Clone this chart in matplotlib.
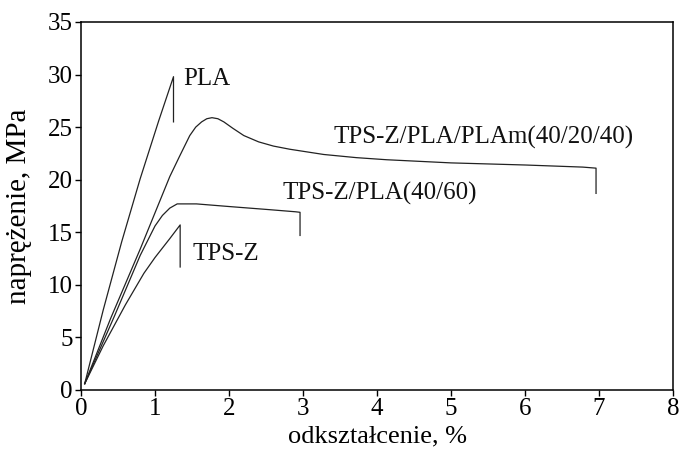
import matplotlib
matplotlib.use("Agg")
import matplotlib.pyplot as plt

# strain (%) / stress (MPa)
pla_x = [0.05, 0.30, 0.55, 0.80, 1.05, 1.25, 1.25]
pla_y = [0.6, 7.6, 14.1, 20.1, 25.6, 29.8, 25.5]

blend3_x = [0.05, 0.4, 0.8, 1.2, 1.33, 1.47, 1.55, 1.63, 1.70, 1.77, 1.85, 1.93,
            2.05, 2.2, 2.4, 2.6, 2.82, 3.05, 3.28, 3.72, 4.13, 5.0, 6.0, 6.78,
            6.96, 6.96]
blend3_y = [0.6, 6.8, 13.4, 20.3, 22.2, 24.2, 25.0, 25.5, 25.8, 25.9, 25.8, 25.5,
            24.9, 24.2, 23.6, 23.2, 22.9, 22.65, 22.4, 22.1, 21.9, 21.6, 21.4, 21.2,
            21.1, 18.7]

blend2_x = [0.05, 0.45, 0.8, 1.0, 1.1, 1.2, 1.3, 1.56, 2.0, 2.55, 2.9, 2.96, 2.96]
blend2_y = [0.6, 7.0, 12.8, 15.6, 16.6, 17.3, 17.7, 17.7, 17.45, 17.15, 16.95, 16.9, 14.7]

tpsz_x = [0.05, 0.3, 0.6, 0.85, 1.0, 1.2, 1.34, 1.34]
tpsz_y = [0.6, 4.2, 8.1, 11.1, 12.6, 14.4, 15.7, 11.7]

labels = ["PLA", "TPS-Z/PLA/PLAm(40/20/40)", "TPS-Z/PLA(40/60)", "TPS-Z"]
label_pos = [(1.38, 29.6), (3.41, 24.0), (2.72, 18.7), (1.51, 12.9)]

plt.rcParams["font.family"] = ["Liberation Serif", "DejaVu Serif"]
plt.rcParams["font.size"] = 18

fig = plt.figure(figsize=(6.79, 4.5), dpi=100)
ax = fig.add_axes([81 / 679, 1 - 390 / 450, 592 / 679, 368 / 450])

for xs, ys in [(pla_x, pla_y), (blend3_x, blend3_y), (blend2_x, blend2_y), (tpsz_x, tpsz_y)]:
    ax.plot(xs, ys, color="#222222", lw=0.9)

for text, (tx, ty) in zip(labels, label_pos):
    ax.text(tx, ty, text, ha="left", va="center", color="#111111", fontsize=18)

ax.set_xlim(0, 8)
ax.set_ylim(0, 35)
ax.set_xticks(range(0, 9))
ax.set_yticks(range(0, 36, 5))
ax.tick_params(direction="out", length=4, width=1, top=False, right=False,
               pad=2, labelsize=18)
for s in ax.spines.values():
    s.set_linewidth(1.1)

ax.set_xlabel("odkształcenie, %", fontsize=19)
ax.set_ylabel("naprężenie, MPa", fontsize=21)
ax.xaxis.set_label_coords(0.5, -0.095)
ax.yaxis.set_label_coords(-0.083, 0.5)

fig.savefig("out.png", dpi=100)
